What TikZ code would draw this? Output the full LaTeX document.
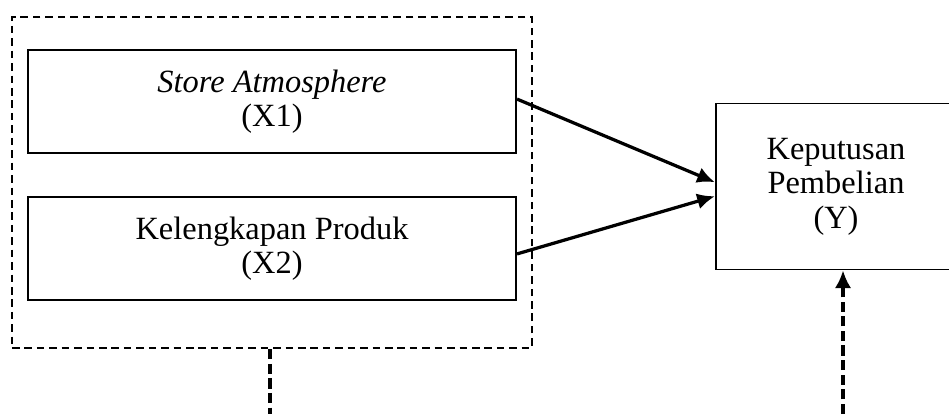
\documentclass[tikz,border=0pt]{standalone}
\usepackage{fontspec}
\setmainfont{Liberation Serif}
\usetikzlibrary{arrows.meta}
\tikzset{
  varbox/.style={draw,line width=0.7pt,inner sep=0pt,align=center,
    font=\fontsize{12}{12.8}\selectfont},
  grpline/.style={line width=0.85pt,dash pattern=on 2.8pt off 1.8pt},
  ctrline/.style={line width=1.15pt,dash pattern=on 3.8pt off 1.6pt},
  tip/.style={-{Latex[length=6.5pt,width=6pt]}}
}
\begin{document}
\begin{tikzpicture}[x=0.37pt,y=-0.37pt]
\useasboundingbox (0,0) rectangle (949,414);
% dashed group round the two independent variables
\node[grpline,draw,minimum width=192.4pt,minimum height=122.5pt,inner sep=0pt] (grp) at (272,182.5) {};
\node[varbox,minimum width=180.6pt,minimum height=38.1pt] (x1) at (272,101.5) {\textit{Store Atmosphere}\\(X1)};
\node[varbox,minimum width=180.6pt,minimum height=38.1pt] (x2) at (272,248.5) {Kelengkapan Produk\\(X2)};
% right edge of this box runs past the border
\node[varbox,minimum width=89pt,minimum height=61.4pt] (kp) at (836,186.5) {Keputusan\\Pembelian\\(Y)};
% free ends at the lower border
\coordinate (b1) at (270,414);
\coordinate (b2) at (843,414);
\draw[line width=1.2pt,tip] ([yshift=0.9pt]x1.east) -- ([yshift=1.6pt]kp.west);
\draw[line width=1.2pt,tip] ([yshift=-2pt]x2.east) -- ([yshift=-3.6pt]kp.west);
\draw[ctrline] (grp.south -| b1) -- (b1);
\draw[ctrline,tip] (b2) -- (kp.south -| b2);
\end{tikzpicture}
\end{document}
